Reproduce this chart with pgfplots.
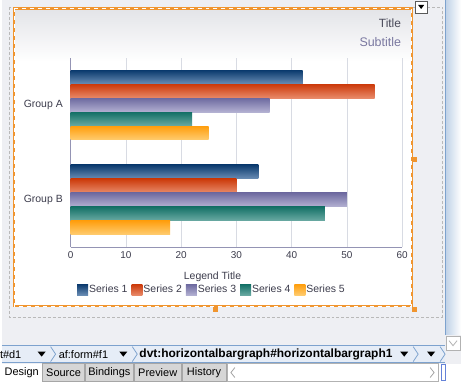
\documentclass[border=0pt]{standalone}
\usepackage{pgfplots}
\pgfplotsset{compat=1.18}
\usepackage{fontspec}
\setmainfont{Liberation Sans}
\definecolor{sAd}{HTML}{0B3A6E}\definecolor{sAl}{HTML}{6B8EB5}
\definecolor{sBd}{HTML}{CC3A0A}\definecolor{sBl}{HTML}{E88A6A}
\definecolor{sCd}{HTML}{6E6AA0}\definecolor{sCl}{HTML}{B3B1D2}
\definecolor{sDd}{HTML}{137066}\definecolor{sDl}{HTML}{6AAAA3}
\definecolor{sEd}{HTML}{FF9E0D}\definecolor{sEl}{HTML}{FFCC70}
\definecolor{bgcol}{HTML}{EEEFF3}
\definecolor{panelTop}{HTML}{E3E4E8}
\definecolor{orangeF}{HTML}{F0952F}
\definecolor{gridcol}{HTML}{D8DBE3}
\definecolor{axcol}{HTML}{9494B4}
\definecolor{labcol}{HTML}{3C3C4C}
\definecolor{titcol}{HTML}{4A4A5A}
\definecolor{subcol}{HTML}{7A78A0}
\definecolor{blueB}{HTML}{7DA2CE}
\definecolor{barbg}{HTML}{E6EDF7}
\definecolor{tabbg}{HTML}{D6D6D6}
\pgfplotsset{
  sA/.style={draw=none, top color=sAd, middle color=sAd, bottom color=sAl, bar shift=28pt},
  sB/.style={draw=none, top color=sBd, middle color=sBd, bottom color=sBl, bar shift=14pt},
  sC/.style={draw=none, top color=sCd, middle color=sCd, bottom color=sCl, bar shift=0pt},
  sD/.style={draw=none, top color=sDd, middle color=sDd, bottom color=sDl, bar shift=-14pt},
  sE/.style={draw=none, top color=sEd, middle color=sEd, bottom color=sEl, bar shift=-28pt},
}
\begin{document}
\begin{tikzpicture}
\begin{scope}[x=1pt,y=-1pt]
\path[use as bounding box] (0,0) rectangle (461,384);
\fill[bgcol] (0,0) rectangle (461,384);
% right scrollbar
\shade[left color=blueB!50, right color=white] (445,0) rectangle (461,336);
\draw[blueB] (445,0) -- (445,336);
% outer dashed gray
\draw[gray!55, dash pattern=on 3pt off 2pt] (7.5,7) rectangle (442,318.5);
% panel
\fill[white] (13,9) rectangle (411,307);
\shade[top color=panelTop, bottom color=white] (13,9) rectangle (411,62);
% orange frame
\draw[orangeF, line width=2.2pt] (12.5,8.5) rectangle (411.5,307.5);
\draw[white, line width=0.8pt, dash pattern=on 4pt off 4pt] (12.5,8.5) rectangle (411.5,307.5);
% handles
\fill[orangeF] (412,158) rectangle (417,163);
\fill[orangeF] (212,308) rectangle (217,313);
\fill[orangeF] (412,308) rectangle (417,313);
% dropdown button
\draw[gray!70!black, fill=white] (415,1) rectangle (427,13);
\fill[black] (418,5) -- (424,5) -- (421,9) -- cycle;
% titles
\node[anchor=east, text=titcol, font=\fontsize{12}{14}\selectfont, inner sep=0pt] at (401,23) {Title};
\node[anchor=east, text=subcol, font=\fontsize{12.5}{14}\selectfont, inner sep=0pt] at (401,42) {Subtitle};
\end{scope}

\begin{axis}[at={(69pt,-248pt)}, anchor=south west, scale only axis,
  width=333pt, height=190pt,
  xmin=0, xmax=60, ymin=-0.5, ymax=1.5,
  xtick={0,10,...,60}, ytick={0,1}, yticklabels={Group B,Group A},
  xmajorgrids, major grid style={gridcol},
  axis x line*=bottom, axis y line*=left,
  axis line style={axcol, line width=0.8pt},
  tick style={draw=none},
  xbar, bar width=14pt,
  tick label style={font=\fontsize{10.5}{12}\selectfont, text=labcol},
  xticklabel style={font=\fontsize{10}{12}\selectfont, yshift=-1pt},
  /pgf/number format/assume math mode=true,
  legend columns=5,
  legend style={at={(0.425,-0.226)}, anchor=center, draw=none, fill=none,
    font=\fontsize{10.5}{12}\selectfont, text=labcol,
    nodes={inner sep=1pt},
    /tikz/every odd column/.append style={column sep=0pt},
    /tikz/every even column/.append style={column sep=3pt}},
  legend image code/.code={\path[#1, draw=none] (0pt,-5.5pt) rectangle (11pt,5.5pt);},
  clip=false,
]
% Group A (y = 1)
\addplot[sA] coordinates {(42,1)};
\addplot[sB] coordinates {(55,1)};
\addplot[sC] coordinates {(36,1)};
\addplot[sD] coordinates {(22,1)};
\addplot[sE] coordinates {(25,1)};
% Group B (y = 0)
\addplot[sA, forget plot] coordinates {(34,0)};
\addplot[sB, forget plot] coordinates {(30,0)};
\addplot[sC, forget plot] coordinates {(50,0)};
\addplot[sD, forget plot] coordinates {(46,0)};
\addplot[sE, forget plot] coordinates {(18,0)};
\legend{Series 1,Series 2,Series 3,Series 4,Series 5}
\node[text=labcol, font=\fontsize{10.5}{12}\selectfont] at (axis description cs:0.428,-0.158) {Legend Title};
\end{axis}

\begin{scope}[x=1pt,y=-1pt]
% breadcrumb bar
\fill[barbg] (0,347) rectangle (445,364);
\draw[blueB] (0,347) -- (445,347);
\draw[blueB] (0,364) -- (445,364);
\begin{scope}[font=\fontsize{11}{13}\selectfont]
\node[anchor=west, inner sep=0pt] at (-2,355.5) {t\#d1};
\node[anchor=west, inner sep=0pt] at (57,355.5) {af:form\#f1};
\node[anchor=west, inner sep=0pt, font=\fontsize{12}{14}\selectfont\bfseries] at (138,355.5) {dvt:horizontalbargraph\#horizontalbargraph1};
\end{scope}
\foreach \ax in {40,122,404,431} {\fill[black] (\ax-4,353) -- (\ax+4,353) -- (\ax,358) -- cycle;}
\foreach \cx in {49,131,413,440} {\draw[blueB, line width=0.8pt] (\cx,348) -- (\cx+5,355.5) -- (\cx,363);}
\draw[gray!60, fill=white] (446,337) rectangle (460,352);
\draw[gray!60, line width=0.8pt] (449,342) -- (453,347) -- (457,342);
% tabs
\fill[white] (0,365) rectangle (461,384);
\foreach \a/\b in {41/83,84/132,133/180,181/225} {\fill[tabbg] (\a,365) rectangle (\b,383); \draw[gray!70] (\a,365) rectangle (\b,383);}
\begin{scope}[font=\fontsize{11}{13}\selectfont, inner sep=0pt]
\node at (20,374.5) {Design};
\node at (62,374.5) {Source};
\node at (108,374.5) {Bindings};
\node at (156.5,374.5) {Preview};
\node at (203,374.5) {History};
\end{scope}
\draw[gray!60] (226,365) rectangle (438,383);
\draw[gray!70, line width=0.8pt] (234,369) -- (230,374) -- (234,379);
\draw[gray!70, line width=0.8pt] (430,369) -- (434,374) -- (430,379);
\draw[blueB!80!blue, line width=1pt] (441,366) rectangle (445,382);
\end{scope}
\end{tikzpicture}
\end{document}
